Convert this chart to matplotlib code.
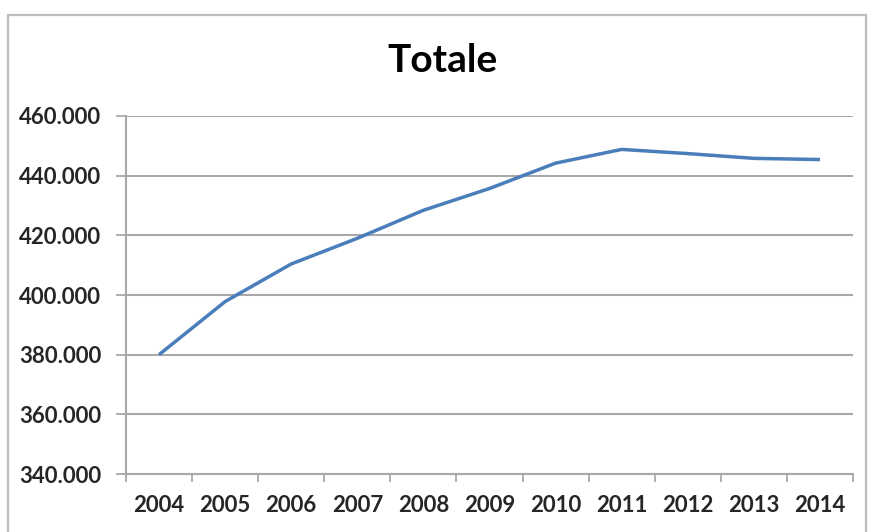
import matplotlib.pyplot as plt
from matplotlib.patches import Rectangle
from matplotlib.ticker import FuncFormatter, FixedLocator

# Totale per anno
anni = ['2004', '2005', '2006', '2007', '2008', '2009', '2010', '2011', '2012', '2013', '2014']
totale = [380000, 397800, 410400, 419000, 428400, 435700, 444200, 448800, 447400, 445800, 445400]
y_ticks = [340000, 360000, 380000, 400000, 420000, 440000, 460000]

grid_col = '#a8a8a8'
text_col = '#262626'

fig = plt.figure(figsize=(8.72, 5.32), dpi=100)
ax = fig.add_axes([126 / 872, 1 - 474 / 532, 727 / 872, 358 / 532])

# chart frame
fig.patches.append(Rectangle((8 / 872, -0.05), 858 / 872, 1.05 - 15 / 532,
                             transform=fig.transFigure, fill=False,
                             edgecolor='#bdbdbd', linewidth=1.6))

x = list(range(len(anni)))
ax.plot(x, totale, color='#4a7ebb', linewidth=2.5, solid_capstyle='butt')

ax.set_xlim(-0.5, len(anni) - 0.5)
ax.set_ylim(340000, 460000)

ax.set_yticks(y_ticks)
ax.yaxis.set_major_formatter(FuncFormatter(lambda v, p: f'{int(v):,}'.replace(',', '.')))
ax.yaxis.grid(True, color=grid_col, linewidth=1.5)
ax.set_axisbelow(True)

ax.set_xticks(x)
ax.set_xticklabels(anni)
ax.xaxis.set_minor_locator(FixedLocator([i - 0.5 for i in range(len(anni) + 1)]))
ax.tick_params(axis='x', which='major', length=0, pad=15)
ax.tick_params(axis='x', which='minor', length=6, width=1.3, color=grid_col)
ax.tick_params(axis='y', length=7, width=1.3, color=grid_col, pad=11)

for lab in ax.get_xticklabels() + ax.get_yticklabels():
    lab.set_fontfamily('Lato')
    lab.set_fontweight('bold')
    lab.set_fontsize(16)
    lab.set_color(text_col)

for s in ['top', 'right']:
    ax.spines[s].set_visible(False)
for s in ['left', 'bottom']:
    ax.spines[s].set_color(grid_col)
    ax.spines[s].set_linewidth(1.5)

fig.text(442 / 872, 1 - 61 / 532, 'Totale', ha='center', va='center',
         fontfamily='Lato', fontweight='bold', fontsize=28, color='black')

fig.savefig('out.png', dpi=100)
